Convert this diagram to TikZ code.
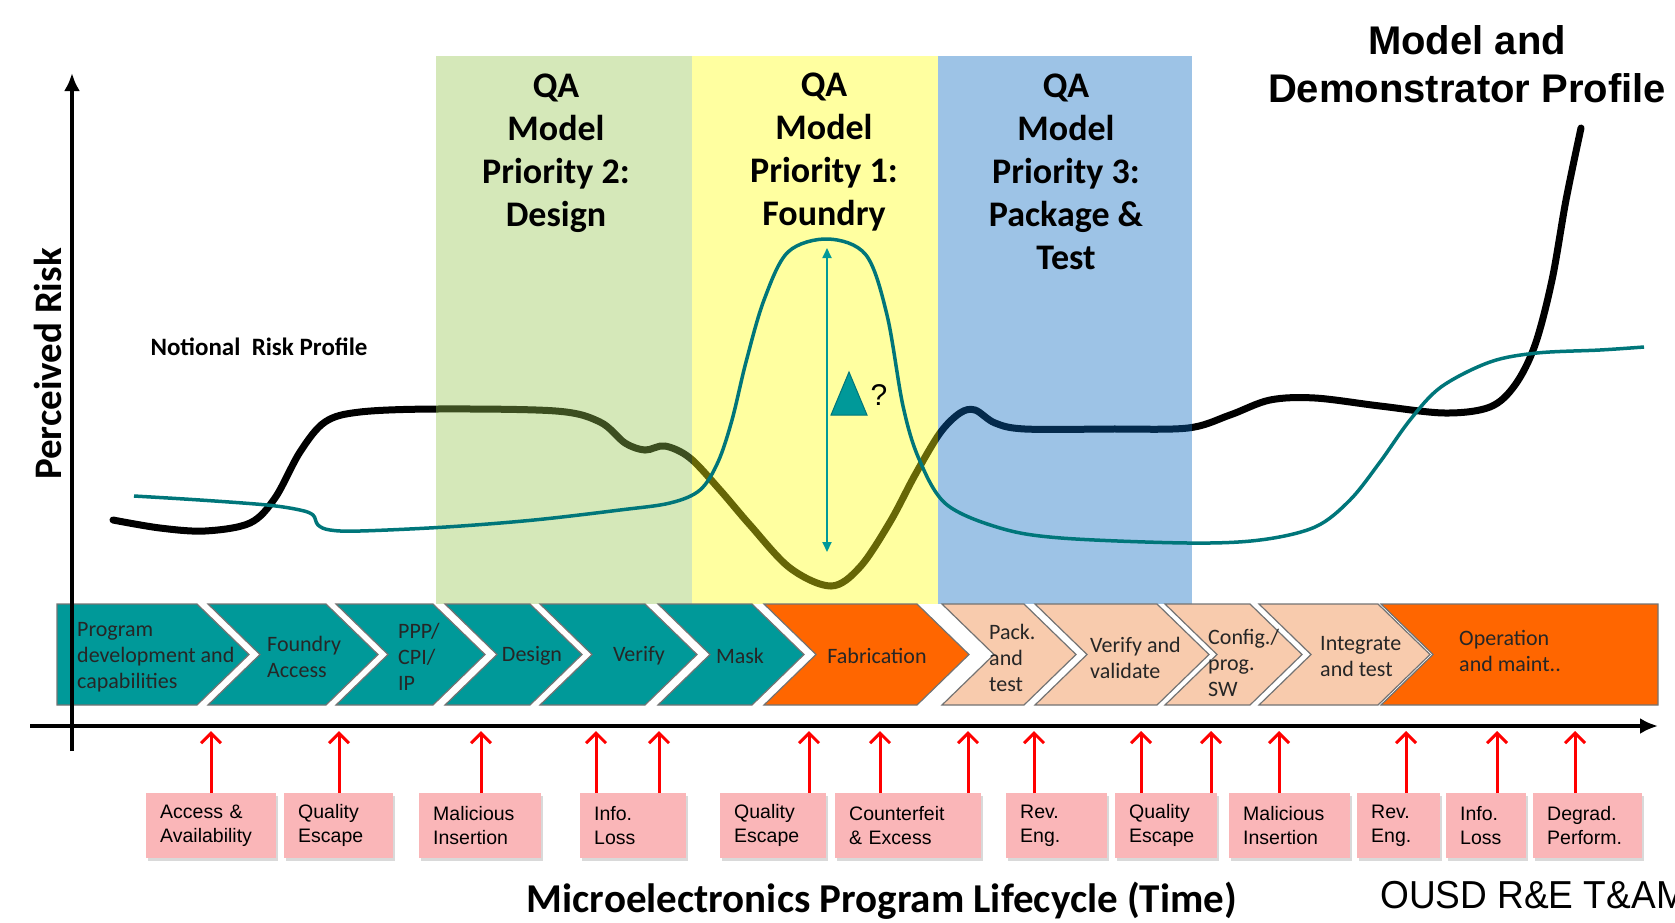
\documentclass[tikz,border=0pt]{standalone}
\usepackage{fontspec}
\setmainfont{Carlito}
\newfontfamily\arialfont{Liberation Sans}
\newfontfamily\narrowfont[FakeStretch=0.95]{Liberation Sans}
\usetikzlibrary{arrows.meta,shadows}
\definecolor{tealfill}{RGB}{0,153,153}
\definecolor{tealline}{RGB}{0,118,122}
\definecolor{orangefill}{RGB}{255,102,0}
\definecolor{peachfill}{RGB}{248,203,173}
\definecolor{pinkfill}{RGB}{250,182,184}
\definecolor{greenband}{RGB}{150,197,80}
\definecolor{yellowband}{RGB}{255,255,17}
\definecolor{blueband}{RGB}{10,105,192}
\begin{document}
\begin{tikzpicture}
% 1 unit = 1 pixel of the 1675x922 sheet, y runs downwards
[x=1pt, y=-1pt,
 axisline/.style={line width=4pt, -{Latex[length=18pt,width=16pt]}},
 band/.style={fill opacity=0.4},
 chev/.style={draw=black!55, line width=1.2pt},
 chevlabel/.style={inner sep=0pt, align=left, text=black!85, font=\fontsize{22}{26}\selectfont},
 qalabel/.style={inner sep=0pt, anchor=north, align=center, font=\fontsize{36}{43}\selectfont\bfseries},
 riskbox/.style={fill=pinkfill, anchor=north west, minimum height=65pt, inner xsep=14pt, align=left,
   font=\arialfont\fontsize{19.5}{24}\selectfont,
   drop shadow={shadow xshift=2pt, shadow yshift=-3pt, opacity=0.3}},
 riskarrow/.style={red, line width=3pt, -{Straight Barb[length=10pt,width=20pt]}}]
\clip (0,0) rectangle (1675,922);
% black profile first, the bands tint it
\draw[line width=7pt, line cap=round] plot[smooth, tension=0.55] coordinates {
 (113,520) (160,528) (205,531) (250,523) (275,498) (300,452) (325,422) (360,412)
 (436,409) (556,411) (600,422) (625,443) (645,450) (665,446) (690,458) (720,490)
 (750,525) (790,568) (831,586) (860,567) (890,522) (915,475) (940,433) (960,413)
 (975,410) (995,423) (1025,429) (1110,429) (1188,428) (1230,415) (1270,400) (1315,398)
 (1380,406) (1445,413) (1490,407) (1515,385) (1535,345) (1552,280) (1566,200) (1581,128)};
% 56 = top of bands, 604 = top of chevron row
\fill[band, greenband] (436,56) rectangle (692,604);
\fill[band, yellowband] (692,56) rectangle (938,604);
\fill[band, blueband] (938,56) rectangle (1192,604);
\node[qalabel] (qa2) at (556,74) {QA\\Model\\Priority 2:\\Design};
\node[qalabel] (qa1) at (824,73) {QA\\Model\\Priority 1:\\Foundry};
\node[qalabel] (qa3) at (1066,74) {QA\\Model\\Priority 3:\\Package \&\\Test};
% teal profile on top
\draw[tealline, line width=3.5pt] plot[smooth, tension=0.55] coordinates {
 (134,496) (200,500) (267,505) (300,510) (313,515) (318,525) (330,530) (360,531)
 (446,527) (534,520) (620,510) (670,503) (700,490) (718,462) (732,420) (746,362)
 (764,300) (788,252) (828,239) (866,255) (887,315) (903,406) (919,459) (946,504)
 (1000,528) (1061,538) (1188,543) (1260,540) (1315,527) (1350,500) (1380,462) (1410,420)
 (1441,387) (1490,362) (1537,353) (1600,350) (1644,347)};
\coordinate (peak) at (827,248);
\coordinate (trough) at (827,552);
\draw[tealfill, line width=1.8pt, {Triangle[length=10pt,width=9pt]}-{Triangle[length=10pt,width=9pt]}] (peak) -- (trough);
\draw[fill=tealfill, draw=tealline, line width=1pt] (849,372) -- (867,415) -- (831,415) -- cycle;
\node[inner sep=0pt, font=\arialfont\fontsize{30}{30}\selectfont] (delta) at (879,395) {?};
% chevrons: top-left x / top-right x / notch depth / fill, 52 = point depth
\foreach \xs/\xe/\nd/\col in {57/197/0/tealfill, 208/326/52/tealfill, 336/433/52/tealfill,
  445/530/52/tealfill, 540/645/52/tealfill, 658/752/52/tealfill, 764/917/52/orangefill,
  942/1024/52/peachfill, 1035/1157/52/peachfill, 1165/1250/52/peachfill, 1259/1378/52/peachfill}{
  \draw[chev, fill=\col] (\xs,604) -- (\xe,604) -- ({\xe+52},654.5) -- (\xe,705)
    -- (\xs,705) -- ({\xs+\nd},654.5) -- cycle;
}
\draw[chev, fill=orangefill] (1381,604) -- (1658,604) -- (1658,705) -- (1381,705) -- (1433,654.5) -- cycle;
\foreach \n/\px/\py/\anc/\txt in {1/77/657/west/{Program\\development and\\capabilities},
  2/267/657/west/{Foundry\\Access}, 3/398/657/west/{PPP/\\CPI/\\IP},
  4/532/656/center/{Design}, 5/639/656/center/{Verify}, 6/740/656/center/{Mask},
  7/877/656/center/{Fabrication}, 8/989/658/west/{Pack.\\and\\test},
  9/1090/658/west/{Verify and\\validate}, 10/1208/663/west/{Config./\\prog.\\SW},
  11/1320/657/west/{Integrate\\and test}, 12/1459/651/west/{Operation\\and maint..}}{
  \node[chevlabel, anchor=\anc] (c\n) at (\px,\py) {\txt};
}
% axes
\coordinate (ybot) at (72,751);
\coordinate (ytop) at (72,73);
\coordinate (xleft) at (30,726);
\coordinate (xright) at (1658,726);
\draw[axisline] (ybot) -- (ytop);
\draw[axisline] (xleft) -- (xright);
% threat boxes: number / left x / right x / text
\foreach \n/\xa/\xb/\txt in {1/146/276/{Access \&\\Availability}, 2/284/393/{Quality\\Escape},
  3/419/541/{Malicious\\Insertion}, 4/580/686/{Info.\\Loss}, 5/720/826/{Quality\\Escape},
  6/835/981/{Counterfeit\\\& Excess}, 7/1006/1107/{Rev.\\Eng.}, 8/1115/1217/{Quality\\Escape},
  9/1229/1350/{Malicious\\Insertion}, 10/1357/1440/{Rev.\\Eng.}, 11/1446/1526/{Info.\\Loss},
  12/1533/1642/{Degrad.\\Perform.}}{
  \pgfmathsetmacro\bw{\xb-\xa}
  \pgfmathsetmacro\tw{\xb-\xa-28}
  \node[riskbox, minimum width=\bw pt, text width=\tw pt] (r\n) at (\xa,793) {\txt};
}
% 731 = just under the time axis
\foreach \n/\ax [count=\k] in {1/211, 2/339, 3/481, 4/596, 4/659, 5/809, 6/880, 6/968,
  7/1034, 8/1141, 8/1211, 9/1279, 10/1406, 11/1497, 12/1575}{
  \coordinate (hit\k) at (\ax,731);
  \draw[riskarrow] (r\n.north -| hit\k) -- (hit\k);
}
\node[rotate=90, inner sep=0pt, font=\fontsize{39}{39}\selectfont\bfseries] (ylab) at (48,364) {Perceived Risk};
\node[inner sep=0pt, font=\fontsize{25}{25}\selectfont\bfseries] (notional) at (259,347) {Notional\ \ Risk Profile};
\node[inner sep=0pt, align=center, font=\arialfont\fontsize{40}{48}\selectfont\bfseries] (demo) at (1467,64) {Model and\\Demonstrator Profile};
\node[inner sep=0pt, font=\fontsize{41}{41}\selectfont\bfseries] (xlab) at (882,901) {Microelectronics Program Lifecycle (Time)};
\node[inner sep=0pt, anchor=west, font=\narrowfont\fontsize{39}{39}\selectfont] (ousd) at (1380,895) {OUSD R\&E T\&AM};
\end{tikzpicture}
\end{document}
